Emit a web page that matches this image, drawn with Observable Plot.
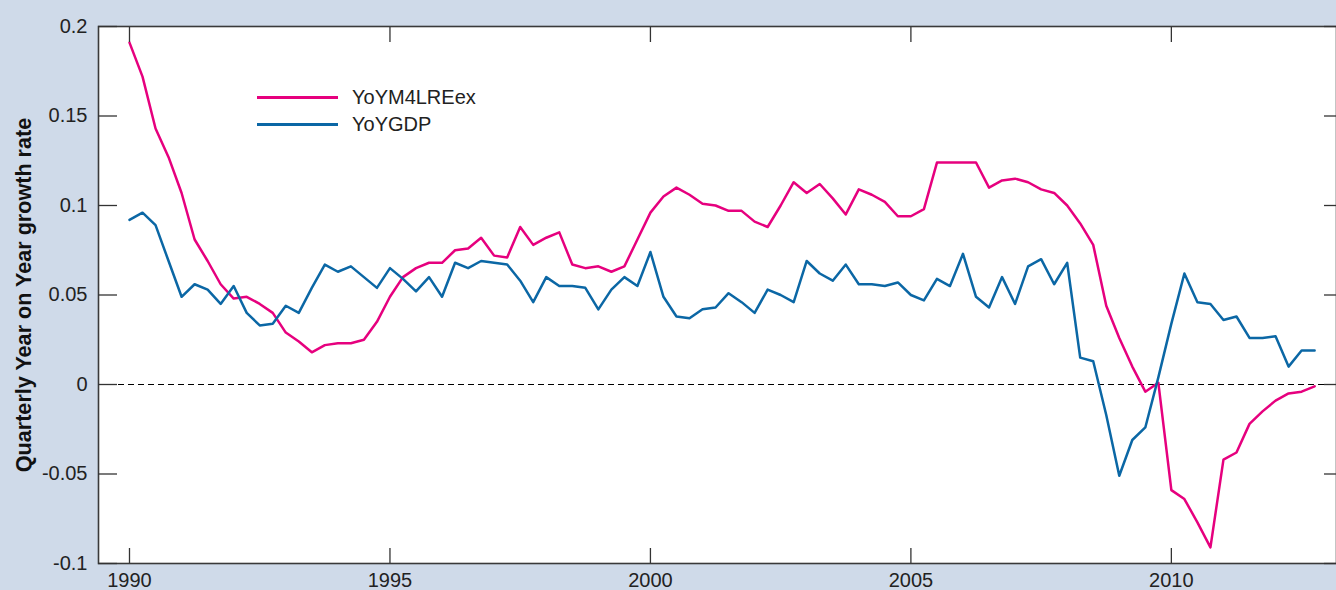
<!DOCTYPE html>
<html>
<head>
<meta charset="utf-8">
<script src="https://cdn.jsdelivr.net/npm/d3@7"></script>
<script src="https://cdn.jsdelivr.net/npm/@observablehq/plot@0.6"></script>
<style>
  html, body { margin: 0; padding: 0; background: #cfdae9; }
  #wrap { position: relative; width: 1336px; height: 590px; overflow: hidden; }
  .legend { position: absolute; left: 257px; top: 84px; font-family: "Liberation Sans", Arial, sans-serif; font-size: 20px; color: #222; }
  .legend .row { display: flex; align-items: center; height: 27px; }
  .legend .sw { width: 81px; height: 3px; margin-right: 14px; }
</style>
</head>
<body>
<div id="wrap"></div>
<script>
// ---- data ----
const startYear = 1990;
const quarterStep = 0.25;
const seriesNames = ["YoYM4LREex", "YoYGDP"];
const seriesColors = ["#e6007e", "#0b67a5"];
const yoyM4LREex = [
  0.191, 0.172, 0.143, 0.127, 0.107, 0.081, 0.069, 0.056, 0.048, 0.049,
  0.045, 0.040, 0.029, 0.024, 0.018, 0.022, 0.023, 0.023, 0.025, 0.035,
  0.049, 0.060, 0.065, 0.068, 0.068, 0.075, 0.076, 0.082, 0.072, 0.071,
  0.088, 0.078, 0.082, 0.085, 0.067, 0.065, 0.066, 0.063, 0.066, 0.081,
  0.096, 0.105, 0.110, 0.106, 0.101, 0.100, 0.097, 0.097, 0.091, 0.088,
  0.100, 0.113, 0.107, 0.112, 0.104, 0.095, 0.109, 0.106, 0.102, 0.094,
  0.094, 0.098, 0.124, 0.124, 0.124, 0.124, 0.110, 0.114, 0.115, 0.113,
  0.109, 0.107, 0.100, 0.090, 0.078, 0.044, 0.026, 0.010, -0.004, 0.001,
  -0.059, -0.064, -0.077, -0.091, -0.042, -0.038, -0.022, -0.015, -0.009, -0.005,
  -0.004, -0.001
];
const yoyGDP = [
  0.092, 0.096, 0.089, 0.069, 0.049, 0.056, 0.053, 0.045, 0.055, 0.040,
  0.033, 0.034, 0.044, 0.040, 0.054, 0.067, 0.063, 0.066, 0.060, 0.054,
  0.065, 0.059, 0.052, 0.060, 0.049, 0.068, 0.065, 0.069, 0.068, 0.067,
  0.058, 0.046, 0.060, 0.055, 0.055, 0.054, 0.042, 0.053, 0.060, 0.055,
  0.074, 0.049, 0.038, 0.037, 0.042, 0.043, 0.051, 0.046, 0.040, 0.053,
  0.050, 0.046, 0.069, 0.062, 0.058, 0.067, 0.056, 0.056, 0.055, 0.057,
  0.050, 0.047, 0.059, 0.055, 0.073, 0.049, 0.043, 0.060, 0.045, 0.066,
  0.070, 0.056, 0.068, 0.015, 0.013, -0.017, -0.051, -0.031, -0.024, 0.004,
  0.034, 0.062, 0.046, 0.045, 0.036, 0.038, 0.026, 0.026, 0.027, 0.010,
  0.019, 0.019
];
const xTicks = [1990, 1995, 2000, 2005, 2010];
const yTicks = [-0.1, -0.05, 0, 0.05, 0.1, 0.15, 0.2];
const zeroLine = [0];
const yLabel = ["Quarterly Year on Year growth rate"];

// ---- build table ----
const toRows = (vals) => vals.map((v, i) => ({ t: startYear + i * quarterStep, v }));
const rowsA = toRows(yoyM4LREex);
const rowsB = toRows(yoyGDP);

const tickColor = "#333";
const chart = Plot.plot({
  width: 1336,
  height: 590,
  marginLeft: 98,
  marginRight: 0,
  marginTop: 26,
  marginBottom: 27,
  style: { background: "transparent", fontFamily: "'Liberation Sans', Arial, sans-serif", fontSize: "20px", color: "#222" },
  x: { domain: [1989.405, 2013.17] },
  y: { domain: [-0.1, 0.2] },
  marks: [
    Plot.frame({ fill: "white" }),
    Plot.ruleY(zeroLine, { stroke: "black", strokeWidth: 1, strokeDasharray: "6,4" }),
    Plot.line(rowsA, { x: "t", y: "v", stroke: seriesColors[0], strokeWidth: 2.5, strokeLinejoin: "round" }),
    Plot.line(rowsB, { x: "t", y: "v", stroke: seriesColors[1], strokeWidth: 2.5, strokeLinejoin: "round" }),
    Plot.frame({ stroke: "#3a3a3a", strokeWidth: 1.6 }),
    Plot.axisX(xTicks, { anchor: "bottom", tickSize: -15, tickPadding: 24, tickFormat: d => String(d), label: null, stroke: tickColor, strokeWidth: 1.3, fill: "#222", fontSize: 20 }),
    Plot.axisX(xTicks, { anchor: "top", tickSize: -15, tickFormat: () => "", label: null, stroke: tickColor, strokeWidth: 1.3 }),
    Plot.axisY(yTicks, { anchor: "left", tickSize: -19, tickPadding: 30, tickFormat: d => String(d), label: null, stroke: tickColor, strokeWidth: 1.3, fill: "#222", fontSize: 20 }),
    Plot.axisY(yTicks, { anchor: "right", tickSize: -13, tickFormat: () => "", label: null, stroke: tickColor, strokeWidth: 1.3 }),
    Plot.text(yLabel, { frameAnchor: "left", textAnchor: "middle", rotate: -90, dx: -74, fontWeight: "bold", fontSize: 21.6, fill: "#111" })
  ]
});
const wrap = document.getElementById("wrap");
wrap.appendChild(chart);

// legend
const legend = document.createElement("div");
legend.className = "legend";
seriesNames.forEach((name, i) => {
  const row = document.createElement("div");
  row.className = "row";
  const sw = document.createElement("span");
  sw.className = "sw";
  sw.style.background = seriesColors[i];
  const label = document.createElement("span");
  label.textContent = name;
  row.appendChild(sw);
  row.appendChild(label);
  legend.appendChild(row);
});
wrap.appendChild(legend);
</script>
</body>
</html>
